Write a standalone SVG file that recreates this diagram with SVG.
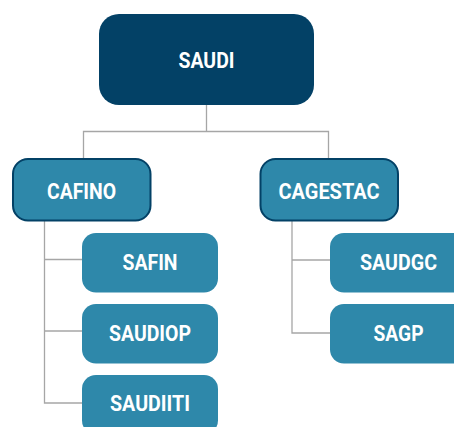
<svg xmlns="http://www.w3.org/2000/svg" width="454" height="427" viewBox="0 0 454 427">
<style>
.root{fill:#034166}
.mid{fill:#2e88aa;stroke:#034166;stroke-width:2}
.leaf{fill:#2e88aa}
.t{fill:#ffffff;font-family:Roboto,"Liberation Sans",sans-serif;font-weight:bold;font-size:22px;text-anchor:middle}
.c{fill:none;stroke:#a6a6a6;stroke-width:1.3}
</style>
<rect width="454" height="427" fill="#ffffff"/>
<g id="connectors">
<path class="c" d="M206.5 105 V131.5 M83.5 158 V131.5 H328.5 V158"/>
<path class="c" d="M44.5 221 V403 H82 M44.5 259.5 H82 M44.5 331 H82"/>
<path class="c" d="M292 221 V333 H330 M292 260 H330"/>
</g>
<g id="SAUDI"><rect class="root" x="99" y="14" width="215" height="91" rx="20"/><text class="t" x="206.5" y="68" textLength="56" lengthAdjust="spacingAndGlyphs">SAUDI</text></g>
<g id="CAFINO"><rect class="mid" x="13" y="159" width="137.5" height="61.5" rx="15"/><text class="t" x="81.5" y="199" textLength="69" lengthAdjust="spacingAndGlyphs">CAFINO</text></g>
<g id="CAGESTAC"><rect class="mid" x="260.5" y="159" width="137.5" height="61.5" rx="15"/><text class="t" x="329" y="199" textLength="101" lengthAdjust="spacingAndGlyphs">CAGESTAC</text></g>
<g id="SAFIN"><rect class="leaf" x="82" y="233" width="136" height="59.5" rx="14"/><text class="t" x="150" y="269.5" textLength="55" lengthAdjust="spacingAndGlyphs">SAFIN</text></g>
<g id="SAUDIOP"><rect class="leaf" x="82" y="304" width="136" height="59.5" rx="14"/><text class="t" x="150" y="340.5" textLength="82" lengthAdjust="spacingAndGlyphs">SAUDIOP</text></g>
<g id="SAUDIITI"><rect class="leaf" x="82" y="375" width="136" height="59.5" rx="14"/><text class="t" x="150" y="411" textLength="80" lengthAdjust="spacingAndGlyphs">SAUDIITI</text></g>
<g id="SAUDGC"><rect class="leaf" x="330" y="233" width="137" height="59.5" rx="14"/><text class="t" x="398.5" y="269.5" textLength="77" lengthAdjust="spacingAndGlyphs">SAUDGC</text></g>
<g id="SAGP"><rect class="leaf" x="330" y="304" width="137" height="59.5" rx="14"/><text class="t" x="398.5" y="341" textLength="50" lengthAdjust="spacingAndGlyphs">SAGP</text></g>
</svg>
